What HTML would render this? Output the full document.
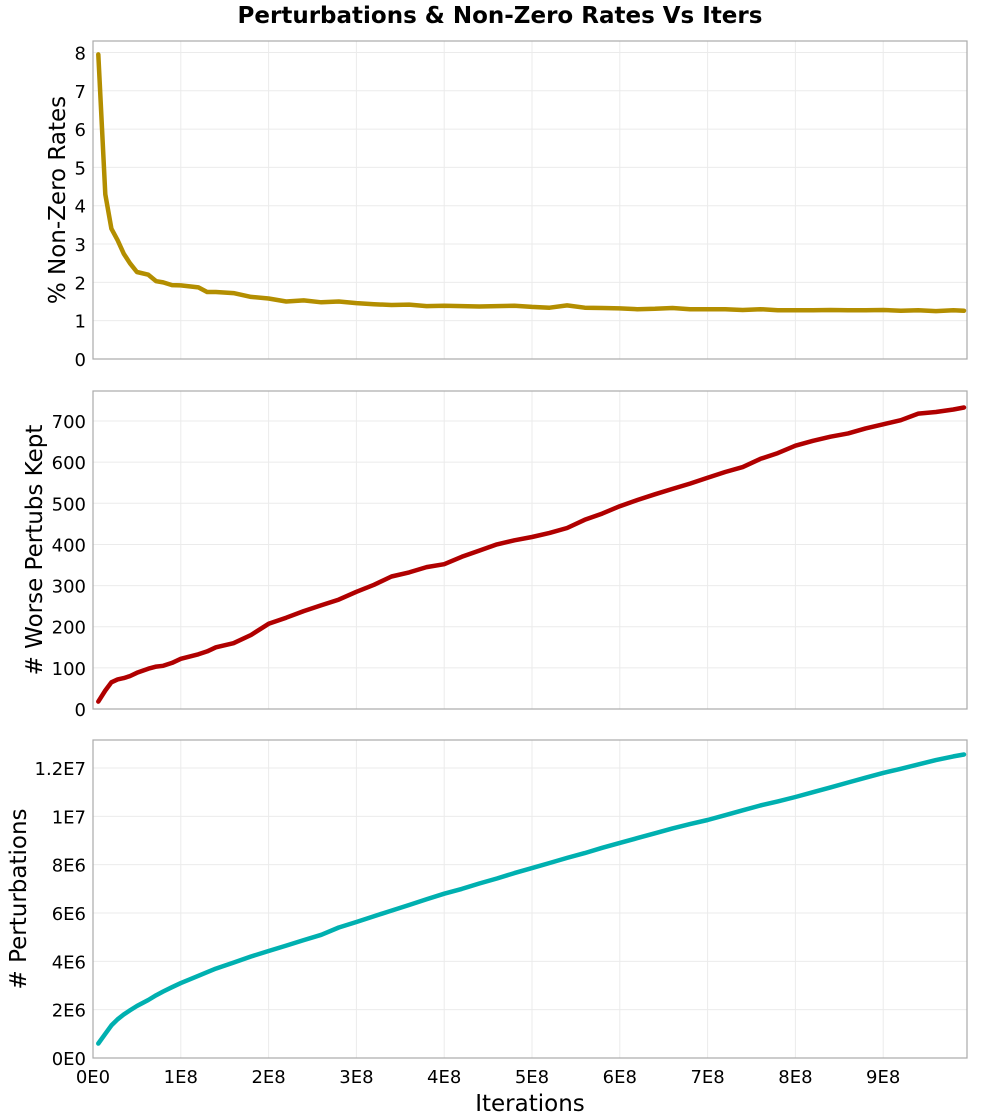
<!DOCTYPE html>
<html><head><meta charset="utf-8"><style>
body{margin:0;background:#fff;}
svg{display:block;font-family:"DejaVu Sans","Liberation Sans",sans-serif;}
</style></head><body>
<svg id="chart" width="1000" height="1120" viewBox="0 0 1000 1120">
<text x="500" y="23" text-anchor="middle" font-size="23" font-weight="bold">Perturbations &amp; Non-Zero Rates Vs Iters</text>
<g id="g"></g>
</svg>
<script>
const iters=[0.6,1.4,2.1,2.8,3.5,4.2,5,6.3,7.2,8,9,10,12,13,14,16,18,20,22,24,26,28,30,32,34,36,38,40,42,44,46,48,50,52,54,56,58,60,62,64,66,68,70,72,74,76,78,80,82,84,86,88,90,92,94,96,98,99.2];
const nonZero=[7.95,4.3,3.4,3.1,2.75,2.5,2.27,2.2,2.03,2.0,1.93,1.92,1.87,1.75,1.75,1.72,1.62,1.58,1.5,1.53,1.48,1.5,1.46,1.43,1.41,1.42,1.38,1.39,1.38,1.37,1.38,1.39,1.36,1.34,1.4,1.34,1.33,1.32,1.3,1.31,1.33,1.3,1.3,1.3,1.28,1.3,1.27,1.27,1.27,1.28,1.27,1.27,1.28,1.26,1.27,1.25,1.27,1.26];
const worseKept=[18,45,65,72,75,80,88,98,103,105,112,122,133,140,150,160,180,207,222,238,252,266,285,302,322,332,345,352,370,385,400,410,418,428,440,460,475,493,508,522,535,548,562,576,588,608,622,640,652,662,670,682,692,702,718,722,728,733];
const perturbs=[0.6,1.0,1.35,1.6,1.8,1.97,2.15,2.4,2.6,2.75,2.93,3.1,3.4,3.55,3.7,3.95,4.2,4.43,4.65,4.88,5.1,5.4,5.63,5.87,6.1,6.33,6.57,6.8,7.0,7.22,7.43,7.65,7.86,8.07,8.28,8.48,8.7,8.9,9.1,9.3,9.5,9.68,9.85,10.05,10.25,10.45,10.62,10.8,11.0,11.2,11.4,11.6,11.8,11.97,12.15,12.33,12.48,12.56];
const xTicks=["0E0","1E8","2E8","3E8","4E8","5E8","6E8","7E8","8E8","9E8"];
const y1Ticks=[0,1,2,3,4,5,6,7,8];
const y2Ticks=[0,100,200,300,400,500,600,700];
const y3Ticks=[0,2,4,6,8,10,12];
const y3Labels=["0E0","2E6","4E6","6E6","8E6","1E7","1.2E7"];
const NS="http://www.w3.org/2000/svg";
const g=document.getElementById('g');
const L=93,R=967;
const xs=v=>L+v*8.78;
function mk(t,a,p){const e=document.createElementNS(NS,t);for(const k in a)e.setAttribute(k,a[k]);(p||g).appendChild(e);return e;}
const panels=[
 {top:41,bot:359,max:8.3,ticks:y1Ticks,labels:y1Ticks.map(String),data:nonZero,color:"#b38e00",title:"% Non-Zero Rates",name:"nonzero"},
 {top:391,bot:709,max:773,ticks:y2Ticks,labels:y2Ticks.map(String),data:worseKept,color:"#b00000",title:"# Worse Pertubs Kept",name:"worse-kept"},
 {top:740,bot:1058,max:13.16,ticks:y3Ticks,labels:y3Labels,data:perturbs,color:"#00b0b0",title:"# Perturbations",name:"perturbations"}
];
panels.forEach((p,pi)=>{
 const ys=v=>p.bot-(v/p.max)*(p.bot-p.top);
 const grp=mk('g',{});
 
 
 for(let i=1;i<xTicks.length;i++){const l=mk('line',{x1:xs(i*10),x2:xs(i*10),y1:p.top,y2:p.bot,stroke:"#ebebeb","stroke-width":1},grp);}
 p.ticks.forEach((t,i)=>{
  const y=ys(t);
  const l=mk('line',{x1:L,x2:R,y1:y,y2:y,stroke:"#ebebeb","stroke-width":1},grp);
  
  const tx=mk('text',{x:L-7,y:y+7,"text-anchor":"end","font-size":18},grp);tx.textContent=p.labels[i];
  
 });
 const fr=mk('rect',{x:L,y:p.top,width:R-L,height:p.bot-p.top,fill:"none",stroke:"#aaa","stroke-width":1.2},grp);
 
 const d=iters.map((x,i)=>(i?'L':'M')+xs(x).toFixed(1)+','+ys(p.data[i]).toFixed(1)).join('');
 const pa=mk('path',{d:d,fill:"none",stroke:p.color,"stroke-width":4.5,"stroke-linejoin":"round","stroke-linecap":"round"},grp);
 
 const cy=(p.top+p.bot)/2;
 const yt=mk('text',{x:0,y:0,"text-anchor":"middle","font-size":23,transform:`translate(${pi==2?26:pi==1?42:65},${cy}) rotate(-90)`},grp);
 yt.textContent=p.title;
 
});
xTicks.forEach((t,i)=>{const tx=mk('text',{x:xs(i*10),y:1083,"text-anchor":"middle","font-size":18});tx.textContent=t;
 });
const xt=mk('text',{x:530,y:1111,"text-anchor":"middle","font-size":23});xt.textContent="Iterations";

</script>
</body></html>
